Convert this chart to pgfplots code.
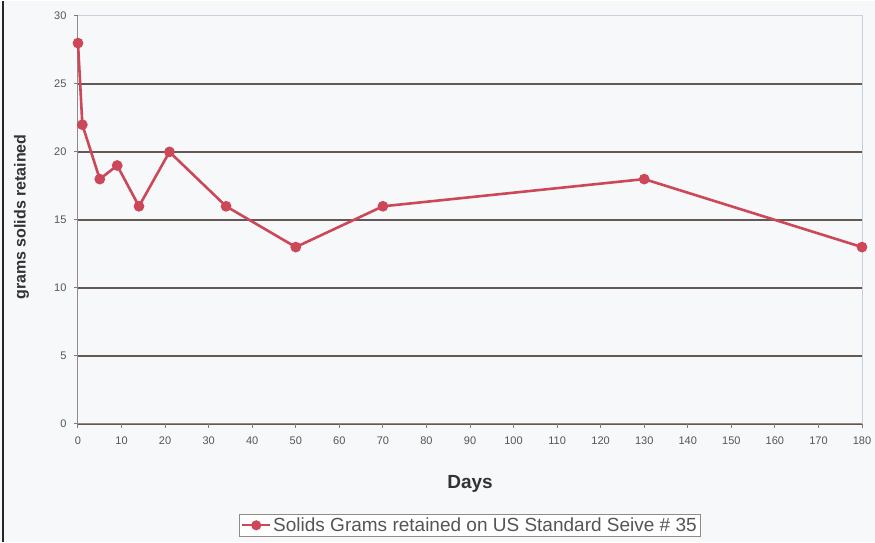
\documentclass[border=0pt]{standalone}
\usepackage{fontspec}
\setmainfont{Liberation Sans}
\usepackage{pgfplots}
\pgfplotsset{compat=1.18}
\definecolor{seriesred}{RGB}{204,72,88}
\definecolor{gridgray}{RGB}{100,88,84}
\definecolor{framegray}{RGB}{200,208,220}
\definecolor{labelgray}{RGB}{85,85,85}
\definecolor{paper}{RGB}{247,248,250}
\pgfplotsset{
    longlegend/.style={
        legend image code/.code={
            \draw[mark repeat=2, mark phase=2, ##1, line width=2pt]
                plot coordinates {(0pt,0pt) (14pt,0pt) (28pt,0pt)};}},
}

\begin{document}
\begin{tikzpicture}
\fill[paper] (-78pt,-118pt) rectangle (797pt,423pt);
\draw[black!85, line width=1.8pt] (-75pt,-118pt) -- (-75pt,423pt);
\begin{axis}[
    scale only axis,
    width=784pt,
    height=408pt,
    xmin=0, xmax=180,
    ymin=0, ymax=30,
    xtick={0,10,...,180},
    ytick={0,5,...,25},
    extra y ticks={30},
    extra y tick style={ymajorgrids=false},
    ymajorgrids,
    grid style={gridgray, line width=1.8pt},
    axis x line*=bottom,
    axis y line*=left,
    axis background/.style={draw=framegray, line width=1pt},
    axis line style={gridgray!70, line width=1pt},
    tick align=outside,
    major tick length=4pt,
    tick style={gridgray!80, line width=1pt},
    tick label style={font=\fontsize{11}{13}\selectfont, text=labelgray},
    xticklabel style={yshift=-5pt},
    yticklabel style={xshift=-4pt},
    /pgf/number format/assume math mode=true,
    xlabel={Days},
    ylabel={grams solids retained},
    x label style={at={(axis description cs:0.5,-0.147)}, anchor=center,
        font=\fontsize{19}{22}\selectfont\bfseries, text=black!80},
    y label style={at={(axis description cs:-0.072,0.507)}, anchor=center,
        font=\fontsize{16}{18}\selectfont\bfseries, text=black!80},
    legend style={at={(0.5,-0.22)}, anchor=north, draw=gridgray!70,
        line width=1pt, fill=white, font=\fontsize{19}{21}\selectfont,
        text=labelgray, inner sep=1.5pt},
    legend cell align=left,
    clip=false,
]
\addplot[seriesred, line width=2.6pt, mark=*, mark size=4pt,
    mark options={fill=seriesred, draw=seriesred}, longlegend] coordinates {
    (0,28) (1,22) (5,18) (9,19) (14,16) (21,20) (34,16)
    (50,13) (70,16) (130,18) (180,13)
};
\addlegendentry{Solids Grams retained on US Standard Seive \# 35}
\end{axis}
\useasboundingbox (-78pt,-118pt) rectangle (797pt,423pt);
\end{tikzpicture}
\end{document}
